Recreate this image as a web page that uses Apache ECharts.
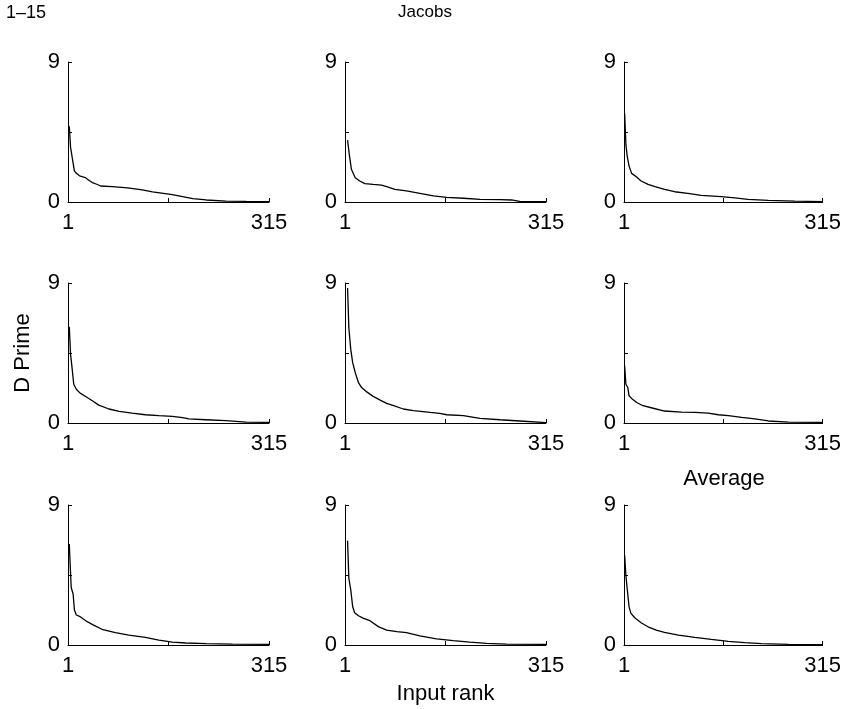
<!DOCTYPE html>
<html><head><meta charset="utf-8">
<script src="https://cdn.jsdelivr.net/npm/echarts@6/dist/echarts.min.js"></script>
<style>html,body{margin:0;padding:0;background:#fff}#c{width:844px;height:709px}</style>
</head><body><div id="c"></div>
<script>
// axis ranges and tick labels
const xMin = 1, xMax = 315, xStep = 157;
const yMin = 0, yMax = 9, yStep = 4.5;
const xTickLabels = {1: '1', 315: '315'};
const yTickLabels = {0: '0', 9: '9'};
const headerLeft = '1–15';
const headerCenter = 'Jacobs';
const yTitle = 'D Prime';
const xTitle = 'Input rank';
const averageTitle = 'Average';

// panel 1 (row 1, col 1)
const rank1 = [3, 5, 7, 11, 14, 19, 28, 33, 39, 46, 52, 70, 94, 117, 133, 164, 180, 196, 217, 248, 279, 315];
const dp1 = [4.87, 3.51, 3.40, 2.0, 1.85, 1.68, 1.57, 1.42, 1.25, 1.14, 1.03, 0.99, 0.91, 0.78, 0.65, 0.47, 0.34, 0.22, 0.13, 0.06, 0.04, 0.02];
// panel 2 (row 1, col 2)
const rank2 = [5, 8, 11, 17, 24, 32, 45, 58, 66, 79, 97, 118, 139, 160, 186, 212, 243, 261, 274, 315];
const dp2 = [3.98, 2.96, 2.10, 1.56, 1.35, 1.18, 1.13, 1.09, 0.99, 0.81, 0.71, 0.56, 0.39, 0.30, 0.24, 0.17, 0.15, 0.13, 0.04, 0.02];
// panel 3 (row 1, col 3)
const rank3 = [2, 4, 6, 9, 13, 21, 28, 39, 50, 65, 81, 102, 123, 155, 176, 197, 229, 271, 315];
const dp3 = [5.70, 3.70, 2.96, 2.31, 1.84, 1.61, 1.35, 1.13, 0.99, 0.81, 0.66, 0.56, 0.43, 0.34, 0.26, 0.17, 0.11, 0.06, 0.02];
// panel 4 (row 2, col 1)
const rank4 = [3, 5, 7, 10, 14, 20, 31, 39, 49, 65, 81, 101, 122, 143, 164, 180, 190, 216, 248, 279, 315];
const dp4 = [6.18, 4.41, 3.67, 2.49, 2.17, 1.92, 1.64, 1.43, 1.15, 0.90, 0.75, 0.64, 0.53, 0.47, 0.43, 0.34, 0.26, 0.21, 0.15, 0.06, 0.04];
// panel 5 (row 2, col 2)
const rank5 = [5, 7, 10, 13, 17, 22, 27, 35, 45, 56, 66, 77, 92, 108, 134, 149, 160, 186, 212, 243, 274, 315];
const dp5 = [8.68, 6.12, 4.73, 3.88, 3.24, 2.60, 2.28, 2.00, 1.71, 1.47, 1.26, 1.11, 0.90, 0.79, 0.68, 0.62, 0.53, 0.47, 0.30, 0.21, 0.13, 0.02];
// panel 6 (row 2, col 3)
const rank6 = [2, 4, 7, 9, 13, 21, 31, 44, 65, 92, 113, 134, 150, 166, 187, 208, 229, 261, 315];
const dp6 = [3.67, 2.49, 2.28, 1.75, 1.58, 1.32, 1.11, 0.98, 0.77, 0.70, 0.68, 0.64, 0.53, 0.47, 0.36, 0.26, 0.13, 0.06, 0.04];
// panel 7 (row 3, col 1)
const rank7 = [3, 5, 6, 9, 11, 14, 20, 31, 41, 54, 75, 96, 122, 143, 164, 185, 217, 258, 315];
const dp7 = [6.49, 4.60, 3.70, 3.28, 2.25, 1.93, 1.82, 1.50, 1.28, 1.01, 0.79, 0.64, 0.49, 0.32, 0.19, 0.13, 0.09, 0.06, 0.04];
// panel 8 (row 3, col 2)
const rank8 = [5, 7, 10, 13, 16, 22, 30, 40, 53, 66, 82, 97, 118, 144, 170, 196, 222, 253, 315];
const dp8 = [6.71, 4.29, 3.54, 2.46, 2.08, 1.88, 1.71, 1.56, 1.18, 0.96, 0.86, 0.79, 0.58, 0.39, 0.28, 0.19, 0.11, 0.06, 0.04];
// panel 9 (row 3, col 3) — Average
const rank9 = [2, 4, 6, 9, 12, 18, 28, 39, 52, 65, 87, 113, 139, 166, 192, 218, 261, 315];
const dp9 = [5.76, 4.48, 3.63, 2.45, 2.03, 1.75, 1.43, 1.17, 0.96, 0.81, 0.64, 0.49, 0.36, 0.23, 0.15, 0.09, 0.04, 0.02];

const panelRanks = [rank1, rank2, rank3, rank4, rank5, rank6, rank7, rank8, rank9];
const panelValues = [dp1, dp2, dp3, dp4, dp5, dp6, dp7, dp8, dp9];

// layout
const colLefts = [68, 345, 624];
const rowTops = [62, 283, 505];
const gridW = 201, gridH = 140;
const FONT = '"Liberation Sans", Arial, Helvetica, sans-serif';
const labelStyle = {color: '#000', fontFamily: FONT, fontSize: 22};

const grids = [], xAxes = [], yAxes = [], series = [];
for (let i = 0; i < 9; i++) {
  const r = Math.floor(i / 3), c = i % 3;
  grids.push({left: colLefts[c], top: rowTops[r], width: gridW, height: gridH, containLabel: false});
  const xa = {
    type: 'value', gridIndex: i, min: xMin, max: xMax, interval: xStep,
    axisLine: {show: true, onZero: false, lineStyle: {color: '#000', width: 1}},
    axisTick: {show: true, inside: true, length: 4, lineStyle: {color: '#000', width: 1}},
    axisLabel: Object.assign({margin: 10, showMinLabel: true, showMaxLabel: true,
      formatter: v => (xTickLabels[Math.round(v)] !== undefined && Math.abs(v - Math.round(v)) < 1e-6) ? xTickLabels[Math.round(v)] : ''}, labelStyle),
    splitLine: {show: false}
  };
  const ya = {
    type: 'value', gridIndex: i, min: yMin, max: yMax, interval: yStep,
    axisLine: {show: true, onZero: false, lineStyle: {color: '#000', width: 1}},
    axisTick: {show: true, inside: true, length: 4, lineStyle: {color: '#000', width: 1}},
    axisLabel: Object.assign({margin: 8, showMinLabel: true, showMaxLabel: true,
      formatter: v => (yTickLabels[v] !== undefined) ? yTickLabels[v] : ''}, labelStyle),
    splitLine: {show: false}
  };
  if (i === 7) {
    xa.name = xTitle; xa.nameLocation = 'middle'; xa.nameGap = 38;
    xa.nameTextStyle = {color: '#000', fontFamily: FONT, fontSize: 22};
  }
  if (i === 3) {
    ya.name = yTitle; ya.nameLocation = 'middle'; ya.nameGap = 34; ya.nameRotate = 90;
    ya.nameTextStyle = {color: '#000', fontFamily: FONT, fontSize: 22};
  }
  xAxes.push(xa); yAxes.push(ya);
  series.push({
    type: 'line', xAxisIndex: i, yAxisIndex: i,
    data: panelRanks[i].map((x, k) => [x, panelValues[i][k]]),
    showSymbol: false, symbol: 'none', smooth: false,
    lineStyle: {color: '#000', width: 1.3}
  });
}

const chart = echarts.init(document.getElementById('c'), null, {renderer: 'canvas'});
chart.setOption({
  backgroundColor: '#fff',
  animation: false,
  grid: grids, xAxis: xAxes, yAxis: yAxes, series: series,
  graphic: [
    {type: 'text', left: 6, top: 4, style: {text: headerLeft, fill: '#000', font: '18px ' + FONT}},
    {type: 'text', x: 425, y: 12, style: {text: headerCenter, fill: '#000', font: '17px ' + FONT, align: 'center', verticalAlign: 'middle', textAlign: 'center', textVerticalAlign: 'middle'}},
    {type: 'text', x: 724, y: 479, style: {text: averageTitle, fill: '#000', font: '22px ' + FONT, align: 'center', verticalAlign: 'middle', textAlign: 'center', textVerticalAlign: 'middle'}}
  ]
});
</script></body></html>
